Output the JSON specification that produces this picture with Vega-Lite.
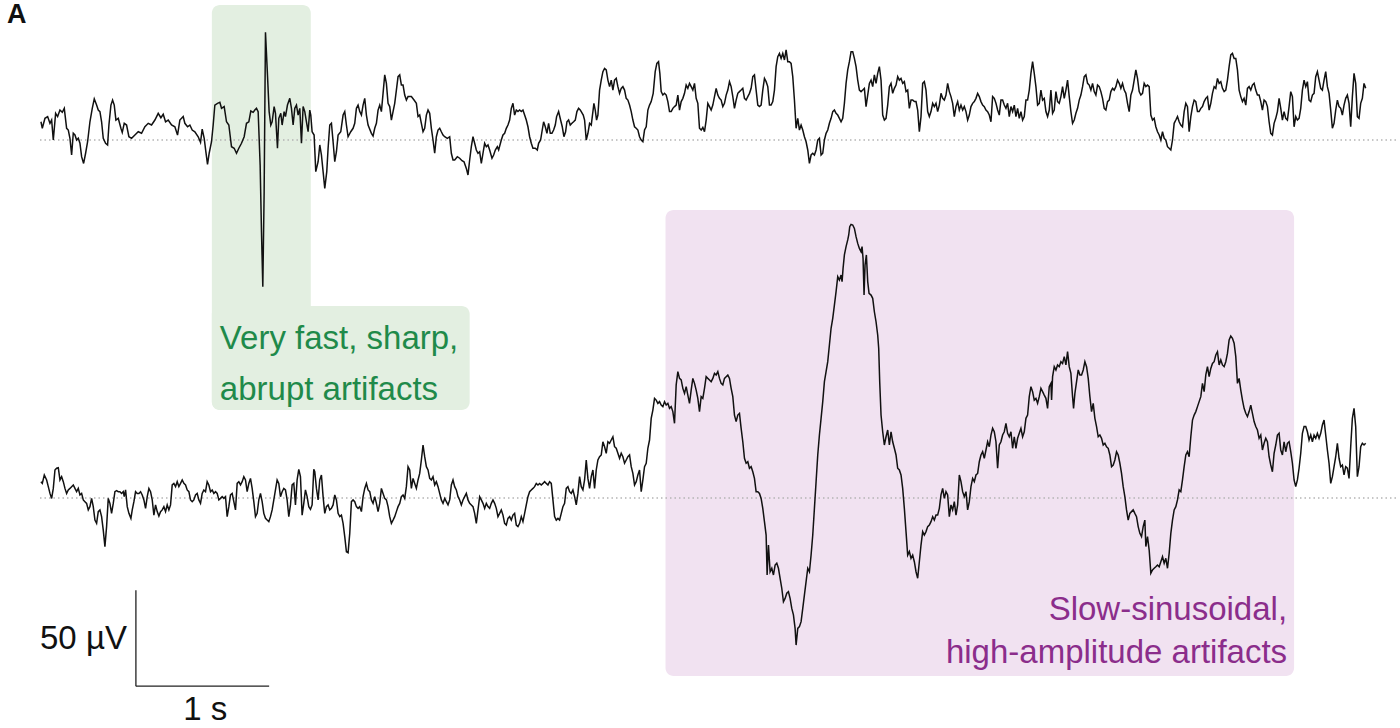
{
  "$schema": "https://vega.github.io/schema/vega-lite/v6.json",
  "width": 1400,
  "height": 728,
  "autosize": {"type": "fit", "contains": "padding"},
  "padding": 0,
  "background": "white",
  "config": {"view": {"stroke": null}},
  "datasets": {
    "top": [
      {"n":3,"uv":9.5},{"n":7,"uv":6.1},{"n":15,"uv":11.3},{"n":23,"uv":12.2},{"n":30,"uv":8.7},{"n":35,"uv":10.4},{"n":40,"uv":0},{"n":47,"uv":13.9},{"n":53,"uv":12.2},{"n":60,"uv":15.6},{"n":67,"uv":14.4},{"n":73,"uv":16.5},{"n":80,"uv":6.1},{"n":85,"uv":5.2},{"n":90,"uv":0.9},{"n":95,"uv":-7.8},{"n":100,"uv":3.5},{"n":105,"uv":2.6},{"n":110,"uv":0},{"n":115,"uv":0.9},{"n":120,"uv":-1.7},{"n":125,"uv":-8.7},{"n":131,"uv":-12.2},{"n":137,"uv":-6.9},{"n":143,"uv":-0.9},{"n":150,"uv":9.5},{"n":157,"uv":16.5},{"n":163,"uv":21.4},{"n":170,"uv":18.2},{"n":175,"uv":15.6},{"n":180,"uv":14.8},{"n":185,"uv":9.5},{"n":190,"uv":0.9},{"n":197,"uv":-1.7},{"n":203,"uv":-2.6},{"n":207,"uv":7.8},{"n":213,"uv":18.2},{"n":218,"uv":20.8},{"n":223,"uv":18.2},{"n":228,"uv":10.4},{"n":235,"uv":11.3},{"n":243,"uv":6.1},{"n":247,"uv":4.0},{"n":253,"uv":8.7},{"n":260,"uv":7.8},{"n":267,"uv":1.7},{"n":275,"uv":0.9},{"n":285,"uv":2.6},{"n":295,"uv":4.3},{"n":305,"uv":3.5},{"n":315,"uv":6.9},{"n":325,"uv":8.7},{"n":335,"uv":7.8},{"n":345,"uv":10.4},{"n":355,"uv":13.9},{"n":363,"uv":11.6},{"n":370,"uv":13.4},{"n":377,"uv":9.5},{"n":385,"uv":10.4},{"n":395,"uv":7.8},{"n":405,"uv":6.9},{"n":413,"uv":2.6},{"n":420,"uv":10.4},{"n":430,"uv":12.2},{"n":435,"uv":8.7},{"n":443,"uv":6.9},{"n":450,"uv":7.8},{"n":457,"uv":5.2},{"n":465,"uv":4.3},{"n":475,"uv":1.7},{"n":482,"uv":-1.2},{"n":487,"uv":5.7},{"n":493,"uv":0.9},{"n":498,"uv":-6.1},{"n":503,"uv":-12.7},{"n":508,"uv":-6.9},{"n":515,"uv":-0.9},{"n":520,"uv":7.8},{"n":525,"uv":18.2},{"n":533,"uv":19.1},{"n":540,"uv":19.6},{"n":545,"uv":16.5},{"n":553,"uv":17.4},{"n":560,"uv":9.5},{"n":567,"uv":7.8},{"n":575,"uv":-3.5},{"n":583,"uv":-4.3},{"n":590,"uv":-6.9},{"n":597,"uv":-4.3},{"n":605,"uv":-1.7},{"n":613,"uv":1.7},{"n":620,"uv":8.7},{"n":627,"uv":9.5},{"n":633,"uv":15.1},{"n":640,"uv":14.4},{"n":645,"uv":15.6},{"n":650,"uv":16.5},{"n":655,"uv":14.8},{"n":661,"uv":-13.0},{"n":665,"uv":-47.7},{"n":669,"uv":-76.4},{"n":673,"uv":-26.9},{"n":677,"uv":56.1},{"n":683,"uv":33.9},{"n":688,"uv":14.8},{"n":693,"uv":7.8},{"n":697,"uv":9.5},{"n":703,"uv":17.4},{"n":707,"uv":13.9},{"n":713,"uv":-4.3},{"n":717,"uv":11.3},{"n":723,"uv":13.9},{"n":727,"uv":7.8},{"n":733,"uv":14.8},{"n":737,"uv":12.2},{"n":743,"uv":18.2},{"n":750,"uv":21.7},{"n":755,"uv":16.5},{"n":760,"uv":7.8},{"n":765,"uv":16.5},{"n":770,"uv":18.2},{"n":775,"uv":13.0},{"n":780,"uv":16.5},{"n":785,"uv":-1.7},{"n":790,"uv":17.4},{"n":795,"uv":14.8},{"n":800,"uv":9.5},{"n":805,"uv":4.3},{"n":810,"uv":15.6},{"n":813,"uv":13.0},{"n":817,"uv":4.3},{"n":823,"uv":2.6},{"n":828,"uv":-16.5},{"n":835,"uv":-11.3},{"n":840,"uv":-2.6},{"n":845,"uv":-7.8},{"n":850,"uv":-16.5},{"n":855,"uv":-25.2},{"n":861,"uv":-16.5},{"n":865,"uv":-4.3},{"n":870,"uv":7.8},{"n":875,"uv":8.7},{"n":880,"uv":-0.9},{"n":885,"uv":-11.3},{"n":890,"uv":-6.1},{"n":895,"uv":2.6},{"n":903,"uv":4.3},{"n":910,"uv":13.0},{"n":915,"uv":14.8},{"n":920,"uv":7.8},{"n":925,"uv":1.7},{"n":933,"uv":4.3},{"n":940,"uv":6.1},{"n":945,"uv":8.7},{"n":950,"uv":16.5},{"n":955,"uv":18.2},{"n":960,"uv":14.8},{"n":965,"uv":13.0},{"n":970,"uv":18.2},{"n":975,"uv":21.7},{"n":980,"uv":13.0},{"n":985,"uv":7.8},
      {"n":995,"uv":3.5},{"n":1000,"uv":2.1},{"n":1005,"uv":6.1},{"n":1010,"uv":8.7},{"n":1015,"uv":15.6},{"n":1020,"uv":18.2},{"n":1025,"uv":14.8},{"n":1030,"uv":24.3},{"n":1035,"uv":33.9},{"n":1040,"uv":29.5},{"n":1045,"uv":19.1},{"n":1050,"uv":17.4},{"n":1055,"uv":10.4},{"n":1060,"uv":14.8},{"n":1065,"uv":19.1},{"n":1070,"uv":26.0},{"n":1075,"uv":33.0},{"n":1080,"uv":33.9},{"n":1085,"uv":28.6},{"n":1090,"uv":28.6},{"n":1095,"uv":23.4},{"n":1100,"uv":20.8},{"n":1105,"uv":22.6},{"n":1115,"uv":22.6},{"n":1123,"uv":20.8},{"n":1130,"uv":19.1},{"n":1135,"uv":12.2},{"n":1140,"uv":13.0},{"n":1145,"uv":8.7},{"n":1150,"uv":4.3},{"n":1155,"uv":6.1},{"n":1160,"uv":13.0},{"n":1165,"uv":15.6},{"n":1170,"uv":13.9},{"n":1175,"uv":6.1},{"n":1180,"uv":0},{"n":1185,"uv":-6.9},{"n":1190,"uv":1.7},{"n":1195,"uv":5.2},{"n":1200,"uv":6.1},{"n":1205,"uv":4.3},{"n":1210,"uv":2.6},{"n":1215,"uv":1.7},{"n":1223,"uv":0.9},{"n":1230,"uv":1.7},{"n":1235,"uv":-6.9},{"n":1240,"uv":-10.4},{"n":1245,"uv":-10.4},{"n":1253,"uv":-8.7},{"n":1260,"uv":-9.5},{"n":1267,"uv":-10.8},{"n":1273,"uv":-11.3},{"n":1280,"uv":-14.8},{"n":1285,"uv":-18.2},{"n":1290,"uv":-10.4},{"n":1295,"uv":-3.5},{"n":1300,"uv":1.7},{"n":1305,"uv":-1.7},{"n":1310,"uv":-5.2},{"n":1315,"uv":-6.9},{"n":1320,"uv":-6.1},{"n":1325,"uv":-12.2},{"n":1330,"uv":-6.9},{"n":1335,"uv":-1.7},{"n":1340,"uv":-3.5},{"n":1345,"uv":-2.6},{"n":1350,"uv":-5.2},{"n":1357,"uv":-9.5},{"n":1362,"uv":-7.8},{"n":1367,"uv":-5.2},{"n":1373,"uv":-3.5},{"n":1377,"uv":-5.2},{"n":1385,"uv":0},{"n":1390,"uv":2.6},{"n":1395,"uv":3.5},{"n":1400,"uv":6.1},{"n":1405,"uv":7.8},{"n":1410,"uv":10.4},{"n":1415,"uv":16.5},{"n":1420,"uv":19.1},{"n":1425,"uv":13.0},{"n":1430,"uv":15.6},{"n":1435,"uv":14.8},{"n":1440,"uv":15.6},{"n":1445,"uv":14.8},{"n":1450,"uv":15.6},{"n":1455,"uv":13.0},{"n":1460,"uv":10.4},{"n":1465,"uv":6.9},{"n":1470,"uv":1.7},{"n":1475,"uv":-1.7},{"n":1480,"uv":-4.3},{"n":1487,"uv":-4.3},{"n":1493,"uv":-5.2},{"n":1497,"uv":-1.7},{"n":1503,"uv":0},{"n":1507,"uv":4.3},{"n":1512,"uv":9.5},{"n":1517,"uv":6.9},{"n":1522,"uv":3.5},{"n":1527,"uv":8.7},{"n":1532,"uv":3.5},{"n":1537,"uv":3.5},{"n":1542,"uv":5.2},{"n":1547,"uv":7.8},{"n":1551,"uv":12.2},{"n":1557,"uv":14.8},{"n":1563,"uv":10.4},{"n":1568,"uv":6.9},{"n":1573,"uv":1.7},{"n":1578,"uv":4.3},{"n":1582,"uv":9.5},{"n":1587,"uv":10.4},{"n":1592,"uv":7.8},{"n":1597,"uv":8.7},{"n":1602,"uv":9.5},{"n":1607,"uv":10.4},{"n":1612,"uv":14.8},{"n":1617,"uv":16.5},{"n":1622,"uv":15.6},{"n":1625,"uv":14.8},{"n":1631,"uv":13.0},{"n":1635,"uv":10.4},{"n":1640,"uv":0},{"n":1645,"uv":3.5},{"n":1650,"uv":8.7},{"n":1655,"uv":7.8},{"n":1660,"uv":14.8},{"n":1663,"uv":19.1},{"n":1667,"uv":15.6},{"n":1671,"uv":10.4},{"n":1675,"uv":13.0},{"n":1680,"uv":26.0},{"n":1685,"uv":31.2},{"n":1690,"uv":35.6},{"n":1695,"uv":37.3},{"n":1700,"uv":36.5},{"n":1705,"uv":31.2},{"n":1710,"uv":27.8},{"n":1715,"uv":31.2},{"n":1720,"uv":26.0},{"n":1725,"uv":31.2},{"n":1730,"uv":32.1},{"n":1735,"uv":27.8},{"n":1740,"uv":24.3},{"n":1745,"uv":26.9},{"n":1750,"uv":27.8},{"n":1755,"uv":26.0},{"n":1760,"uv":21.7},{"n":1765,"uv":20.8},{"n":1770,"uv":18.2},{"n":1775,"uv":14.8},{"n":1780,"uv":10.4},{"n":1785,"uv":6.9},{"n":1790,"uv":6.1},{"n":1795,"uv":5.2},{"n":1800,"uv":1.7},{"n":1805,"uv":0},{"n":1810,"uv":-0.9},{"n":1815,"uv":5.2},{"n":1820,"uv":6.9},{"n":1825,"uv":15.6},{"n":1830,"uv":18.2},{"n":1835,"uv":20.0},{"n":1841,"uv":24.3},{"n":1847,"uv":35.6},{"n":1852,"uv":39.9},{"n":1857,"uv":40.8},{"n":1861,"uv":34.7},{"n":1865,"uv":25.2},{"n":1870,"uv":23.4},{"n":1875,"uv":24.3},{"n":1880,"uv":23.4},{"n":1885,"uv":20.0},{"n":1890,"uv":14.8},{"n":1895,"uv":14.8},{"n":1900,"uv":16.5},{"n":1905,"uv":17.4},{"n":1910,"uv":18.2},{"n":1915,"uv":23.4},{"n":1920,"uv":15.6},{"n":1925,"uv":20.0},{"n":1930,"uv":21.7},{"n":1935,"uv":24.3},{"n":1940,"uv":28.6},{"n":1945,"uv":26.9},{"n":1950,"uv":29.5},{"n":1955,"uv":27.8},{"n":1960,"uv":26.0},{"n":1965,"uv":29.5},{"n":1970,"uv":21.7},{"n":1975,"uv":19.1},
      {"n":1980,"uv":6.1},{"n":1985,"uv":5.2},{"n":1990,"uv":6.6},{"n":1995,"uv":4.3},{"n":2000,"uv":10.4},{"n":2005,"uv":19.1},{"n":2010,"uv":17.4},{"n":2015,"uv":15.6},{"n":2020,"uv":18.2},{"n":2025,"uv":22.6},{"n":2030,"uv":26.9},{"n":2035,"uv":23.4},{"n":2040,"uv":21.7},{"n":2045,"uv":20.8},{"n":2050,"uv":17.4},{"n":2055,"uv":19.1},{"n":2060,"uv":23.4},{"n":2065,"uv":26.0},{"n":2070,"uv":30.4},{"n":2075,"uv":27.8},{"n":2080,"uv":22.6},{"n":2085,"uv":16.5},{"n":2090,"uv":20.8},{"n":2095,"uv":24.3},{"n":2100,"uv":25.2},{"n":2105,"uv":26.0},{"n":2110,"uv":26.9},{"n":2115,"uv":21.7},{"n":2120,"uv":20.8},{"n":2125,"uv":22.6},{"n":2130,"uv":24.3},{"n":2135,"uv":26.9},{"n":2140,"uv":33.0},{"n":2145,"uv":33.9},{"n":2150,"uv":26.0},{"n":2155,"uv":18.2},{"n":2160,"uv":17.4},{"n":2165,"uv":18.2},{"n":2170,"uv":26.0},{"n":2175,"uv":32.1},{"n":2180,"uv":30.4},{"n":2185,"uv":27.8},{"n":2190,"uv":18.2},{"n":2195,"uv":18.2},{"n":2200,"uv":20.0},{"n":2205,"uv":26.0},{"n":2210,"uv":38.2},{"n":2215,"uv":43.4},{"n":2220,"uv":45.1},{"n":2225,"uv":42.5},{"n":2230,"uv":45.1},{"n":2235,"uv":41.7},{"n":2240,"uv":46.9},{"n":2245,"uv":40.8},{"n":2250,"uv":40.8},{"n":2255,"uv":39.9},{"n":2260,"uv":33.0},{"n":2265,"uv":20.8},{"n":2270,"uv":6.1},{"n":2275,"uv":11.3},{"n":2280,"uv":5.2},{"n":2285,"uv":7.8},{"n":2290,"uv":5.2},{"n":2295,"uv":1.7},{"n":2300,"uv":-0.9},{"n":2305,"uv":-5.2},{"n":2310,"uv":-12.2},{"n":2315,"uv":-7.8},{"n":2320,"uv":-6.9},{"n":2325,"uv":-7.8},{"n":2330,"uv":-5.2},{"n":2335,"uv":0},{"n":2340,"uv":0.9},{"n":2345,"uv":-7.8},{"n":2350,"uv":-6.9},{"n":2355,"uv":0},{"n":2360,"uv":3.5},{"n":2365,"uv":5.2},{"n":2370,"uv":8.7},{"n":2375,"uv":11.3},{"n":2380,"uv":14.8},{"n":2385,"uv":15.6},{"n":2390,"uv":13.9},{"n":2395,"uv":13.0},{"n":2400,"uv":11.3},{"n":2405,"uv":9.5},{"n":2410,"uv":11.3},{"n":2415,"uv":19.1},{"n":2420,"uv":29.5},{"n":2425,"uv":36.5},{"n":2430,"uv":40.8},{"n":2435,"uv":46.0},{"n":2440,"uv":46.0},{"n":2445,"uv":42.5},{"n":2450,"uv":38.2},{"n":2455,"uv":31.2},{"n":2460,"uv":26.0},{"n":2465,"uv":25.2},{"n":2470,"uv":26.0},{"n":2475,"uv":26.9},{"n":2480,"uv":17.4},{"n":2485,"uv":23.4},{"n":2490,"uv":29.5},{"n":2495,"uv":31.2},{"n":2500,"uv":27.8},{"n":2505,"uv":33.9},{"n":2510,"uv":29.5},{"n":2515,"uv":34.7},{"n":2520,"uv":38.2},{"n":2525,"uv":31.2},{"n":2530,"uv":13.0},{"n":2535,"uv":10.4},{"n":2540,"uv":11.3},{"n":2545,"uv":18.2},{"n":2550,"uv":27.8},{"n":2555,"uv":29.5},{"n":2560,"uv":24.3},{"n":2565,"uv":26.9},{"n":2570,"uv":28.6},{"n":2575,"uv":33.0},{"n":2580,"uv":31.2},{"n":2585,"uv":32.1},{"n":2590,"uv":29.5},{"n":2595,"uv":30.4},{"n":2600,"uv":25.2},{"n":2605,"uv":26.0},{"n":2610,"uv":16.5},{"n":2615,"uv":20.8},{"n":2620,"uv":20.8},{"n":2625,"uv":20.0},{"n":2630,"uv":20.0},{"n":2635,"uv":15.6},{"n":2640,"uv":4.3},{"n":2645,"uv":12.2},{"n":2650,"uv":29.5},{"n":2655,"uv":30.4},{"n":2660,"uv":26.0},{"n":2665,"uv":14.8},{"n":2670,"uv":12.2},{"n":2675,"uv":14.8},{"n":2680,"uv":19.1},{"n":2685,"uv":17.4},{"n":2690,"uv":19.1},{"n":2695,"uv":14.8},{"n":2700,"uv":18.2},{"n":2705,"uv":24.3},{"n":2710,"uv":21.7},{"n":2715,"uv":20.8},{"n":2720,"uv":23.4},{"n":2725,"uv":29.5},{"n":2730,"uv":25.2},{"n":2735,"uv":22.6},{"n":2740,"uv":19.1},{"n":2745,"uv":12.2},{"n":2750,"uv":17.4},{"n":2755,"uv":20.0},{"n":2760,"uv":15.6},{"n":2765,"uv":18.2},{"n":2770,"uv":15.6},{"n":2775,"uv":17.4},{"n":2780,"uv":14.8},{"n":2785,"uv":10.4},{"n":2790,"uv":13.0},{"n":2795,"uv":17.4},{"n":2800,"uv":19.1},{"n":2805,"uv":20.0},{"n":2810,"uv":21.7},{"n":2815,"uv":24.3},{"n":2820,"uv":22.6},{"n":2825,"uv":20.0},{"n":2830,"uv":18.2},{"n":2835,"uv":17.4},{"n":2840,"uv":15.6},{"n":2845,"uv":14.8},{"n":2850,"uv":13.0},{"n":2855,"uv":9.5},{"n":2860,"uv":22.6},{"n":2865,"uv":21.7},{"n":2870,"uv":19.1},{"n":2875,"uv":15.6},{"n":2880,"uv":13.0},{"n":2885,"uv":20.8},{"n":2890,"uv":20.8},{"n":2895,"uv":18.2},{"n":2900,"uv":16.5},{"n":2905,"uv":19.1},{"n":2910,"uv":12.2},{"n":2915,"uv":17.4},{"n":2920,"uv":14.8},{"n":2925,"uv":18.2},{"n":2930,"uv":12.2},{"n":2935,"uv":16.5},{"n":2940,"uv":11.3},{"n":2945,"uv":14.8},{"n":2950,"uv":10.4},{"n":2955,"uv":12.2},{"n":2960,"uv":20.8},{"n":2965,"uv":20.8},
      {"n":2970,"uv":26.0},{"n":2975,"uv":34.7},{"n":2980,"uv":40.8},{"n":2985,"uv":34.7},{"n":2990,"uv":27.8},{"n":2995,"uv":18.2},{"n":3000,"uv":19.1},{"n":3005,"uv":26.0},{"n":3010,"uv":20.8},{"n":3015,"uv":21.7},{"n":3020,"uv":14.8},{"n":3025,"uv":12.2},{"n":3030,"uv":15.6},{"n":3035,"uv":26.0},{"n":3040,"uv":13.9},{"n":3045,"uv":15.6},{"n":3050,"uv":25.2},{"n":3055,"uv":20.0},{"n":3060,"uv":19.1},{"n":3065,"uv":22.6},{"n":3070,"uv":27.8},{"n":3075,"uv":21.7},{"n":3080,"uv":26.0},{"n":3085,"uv":31.2},{"n":3090,"uv":22.6},{"n":3095,"uv":14.8},{"n":3100,"uv":8.7},{"n":3105,"uv":10.4},{"n":3110,"uv":13.9},{"n":3115,"uv":16.5},{"n":3120,"uv":20.8},{"n":3125,"uv":23.4},{"n":3130,"uv":27.8},{"n":3135,"uv":33.0},{"n":3140,"uv":33.9},{"n":3145,"uv":29.5},{"n":3150,"uv":28.6},{"n":3155,"uv":26.0},{"n":3160,"uv":29.5},{"n":3165,"uv":25.2},{"n":3170,"uv":23.4},{"n":3175,"uv":28.6},{"n":3180,"uv":27.8},{"n":3185,"uv":25.2},{"n":3190,"uv":21.7},{"n":3195,"uv":16.5},{"n":3200,"uv":15.6},{"n":3205,"uv":20.0},{"n":3210,"uv":20.8},{"n":3215,"uv":25.2},{"n":3220,"uv":26.9},{"n":3225,"uv":26.0},{"n":3230,"uv":27.8},{"n":3235,"uv":31.2},{"n":3240,"uv":29.5},{"n":3245,"uv":26.9},{"n":3250,"uv":29.5},{"n":3255,"uv":26.0},{"n":3260,"uv":24.3},{"n":3265,"uv":19.1},{"n":3270,"uv":14.8},{"n":3275,"uv":23.4},{"n":3280,"uv":26.0},{"n":3285,"uv":31.2},{"n":3290,"uv":36.5},{"n":3295,"uv":32.1},{"n":3300,"uv":25.2},{"n":3305,"uv":23.4},{"n":3310,"uv":24.3},{"n":3315,"uv":29.5},{"n":3320,"uv":27.8},{"n":3325,"uv":28.6},{"n":3330,"uv":27.8},{"n":3335,"uv":13.0},{"n":3340,"uv":10.4},{"n":3345,"uv":11.3},{"n":3350,"uv":6.9},{"n":3355,"uv":4.3},{"n":3360,"uv":2.6},{"n":3365,"uv":0},{"n":3370,"uv":4.3},{"n":3375,"uv":0.9},{"n":3380,"uv":0},{"n":3385,"uv":-3.5},{"n":3390,"uv":-4.3},{"n":3395,"uv":-5.2},{"n":3400,"uv":0},{"n":3405,"uv":8.7},{"n":3410,"uv":10.4},{"n":3415,"uv":12.2},{"n":3420,"uv":9.5},{"n":3425,"uv":7.8},{"n":3430,"uv":6.9},{"n":3435,"uv":14.8},{"n":3440,"uv":19.1},{"n":3445,"uv":17.4},{"n":3450,"uv":4.3},{"n":3455,"uv":12.2},{"n":3460,"uv":17.4},{"n":3465,"uv":20.8},{"n":3470,"uv":20.0},{"n":3475,"uv":14.8},{"n":3480,"uv":14.8},{"n":3485,"uv":16.5},{"n":3490,"uv":17.4},{"n":3495,"uv":20.0},{"n":3500,"uv":21.7},{"n":3505,"uv":22.6},{"n":3510,"uv":15.6},{"n":3515,"uv":19.1},{"n":3520,"uv":24.3},{"n":3525,"uv":27.8},{"n":3530,"uv":26.9},{"n":3535,"uv":32.1},{"n":3540,"uv":29.5},{"n":3545,"uv":30.4},{"n":3550,"uv":26.9},{"n":3555,"uv":25.2},{"n":3560,"uv":26.0},{"n":3565,"uv":31.2},{"n":3570,"uv":38.2},{"n":3575,"uv":44.3},{"n":3580,"uv":45.1},{"n":3585,"uv":42.5},{"n":3590,"uv":42.5},{"n":3595,"uv":36.5},{"n":3600,"uv":26.0},{"n":3605,"uv":22.6},{"n":3610,"uv":20.0},{"n":3615,"uv":21.7},{"n":3620,"uv":18.2},{"n":3625,"uv":26.9},{"n":3630,"uv":27.8},{"n":3635,"uv":26.0},{"n":3640,"uv":28.6},{"n":3645,"uv":29.5},{"n":3650,"uv":26.0},{"n":3655,"uv":23.4},{"n":3660,"uv":23.4},{"n":3665,"uv":20.0},{"n":3670,"uv":15.6},{"n":3675,"uv":20.8},{"n":3680,"uv":20.0},{"n":3685,"uv":17.4},{"n":3690,"uv":9.5},{"n":3695,"uv":3.5},{"n":3700,"uv":2.6},{"n":3705,"uv":8.7},{"n":3710,"uv":11.3},{"n":3715,"uv":14.8},{"n":3720,"uv":21.7},{"n":3725,"uv":16.5},{"n":3730,"uv":10.4},{"n":3735,"uv":14.8},{"n":3740,"uv":11.3},{"n":3745,"uv":10.4},{"n":3750,"uv":17.4},{"n":3755,"uv":25.2},{"n":3760,"uv":22.6},{"n":3765,"uv":6.9},{"n":3770,"uv":12.2},{"n":3775,"uv":10.4},{"n":3780,"uv":11.3},{"n":3785,"uv":16.5},{"n":3790,"uv":26.0},{"n":3795,"uv":31.2},{"n":3800,"uv":27.8},{"n":3805,"uv":30.4},{"n":3810,"uv":20.8},{"n":3815,"uv":20.0},{"n":3820,"uv":23.4},{"n":3825,"uv":24.3},{"n":3830,"uv":33.0},{"n":3835,"uv":35.6},{"n":3840,"uv":31.2},{"n":3845,"uv":26.9},{"n":3850,"uv":26.0},{"n":3855,"uv":31.2},{"n":3860,"uv":35.6},{"n":3865,"uv":27.8},{"n":3870,"uv":24.3},{"n":3875,"uv":15.6},{"n":3880,"uv":6.1},{"n":3885,"uv":8.7},{"n":3890,"uv":15.6},{"n":3895,"uv":20.8},{"n":3900,"uv":17.4},{"n":3905,"uv":16.5},{"n":3910,"uv":13.0},{"n":3915,"uv":18.2},{"n":3920,"uv":21.7},{"n":3925,"uv":23.4},{"n":3930,"uv":19.1},{"n":3935,"uv":6.9},{"n":3940,"uv":22.6},{"n":3945,"uv":34.7},{"n":3950,"uv":29.5},{"n":3955,"uv":12.2},{"n":3960,"uv":11.3},{"n":3965,"uv":19.1},{"n":3970,"uv":21.7},{"n":3975,"uv":29.5},{"n":3980,"uv":26.9}
    ],
    "bottom": [
      {"n":3,"uv":8.5},{"n":7,"uv":7.6},{"n":13,"uv":12.0},{"n":20,"uv":9.4},{"n":25,"uv":5.9},{"n":30,"uv":2.4},{"n":35,"uv":-0.2},{"n":40,"uv":5.0},{"n":45,"uv":14.6},{"n":50,"uv":15.5},{"n":55,"uv":15.8},{"n":60,"uv":9.4},{"n":65,"uv":11.1},{"n":70,"uv":8.5},{"n":75,"uv":5.0},{"n":80,"uv":2.4},{"n":85,"uv":4.2},{"n":90,"uv":5.0},{"n":95,"uv":5.9},{"n":100,"uv":6.8},{"n":105,"uv":5.0},{"n":110,"uv":3.3},{"n":115,"uv":5.0},{"n":120,"uv":1.6},{"n":125,"uv":2.4},{"n":130,"uv":-1.0},{"n":135,"uv":-1.9},{"n":140,"uv":-2.8},{"n":145,"uv":-6.2},{"n":150,"uv":-4.5},{"n":155,"uv":-0.2},{"n":160,"uv":-4.5},{"n":165,"uv":-11.5},{"n":170,"uv":-13.2},{"n":175,"uv":-7.1},{"n":180,"uv":-6.2},{"n":185,"uv":-9.7},{"n":190,"uv":-16.7},{"n":195,"uv":-25.3},{"n":200,"uv":-14.9},{"n":205,"uv":-0.2},{"n":210,"uv":-2.8},{"n":215,"uv":-8.0},{"n":220,"uv":-2.8},{"n":225,"uv":3.3},{"n":230,"uv":3.8},{"n":235,"uv":3.3},{"n":240,"uv":3.3},{"n":245,"uv":2.4},{"n":250,"uv":3.3},{"n":253,"uv":0.7},{"n":257,"uv":4.2},{"n":262,"uv":-4.5},{"n":267,"uv":-8.0},{"n":273,"uv":-10.6},{"n":277,"uv":-6.2},{"n":282,"uv":-1.9},{"n":287,"uv":3.3},{"n":292,"uv":2.4},{"n":297,"uv":2.4},{"n":302,"uv":3.3},{"n":307,"uv":1.6},{"n":312,"uv":-1.0},{"n":317,"uv":-5.4},{"n":322,"uv":0.7},{"n":327,"uv":5.0},{"n":332,"uv":3.3},{"n":337,"uv":-1.0},{"n":342,"uv":-8.9},{"n":347,"uv":-3.6},{"n":352,"uv":-7.1},{"n":357,"uv":-9.4},{"n":362,"uv":-7.1},{"n":367,"uv":-6.2},{"n":372,"uv":-4.5},{"n":377,"uv":-7.1},{"n":382,"uv":-3.6},{"n":387,"uv":-6.2},{"n":392,"uv":-3.6},{"n":397,"uv":6.8},{"n":402,"uv":7.6},{"n":407,"uv":5.9},{"n":412,"uv":8.5},{"n":417,"uv":5.9},{"n":422,"uv":7.6},{"n":427,"uv":9.4},{"n":432,"uv":7.6},{"n":437,"uv":6.8},{"n":442,"uv":4.2},{"n":447,"uv":3.3},{"n":452,"uv":-1.0},{"n":457,"uv":-1.9},{"n":462,"uv":-1.0},{"n":467,"uv":1.6},{"n":472,"uv":2.4},{"n":477,"uv":-1.0},{"n":482,"uv":-2.8},{"n":487,"uv":2.4},{"n":492,"uv":4.2},{"n":497,"uv":3.3},{"n":502,"uv":8.5},{"n":507,"uv":6.8},{"n":512,"uv":3.3},{"n":517,"uv":4.2},{"n":522,"uv":2.4},{"n":527,"uv":3.3},{"n":532,"uv":2.4},{"n":537,"uv":-1.0},{"n":542,"uv":-0.2},{"n":547,"uv":0.7},{"n":552,"uv":-0.2},{"n":557,"uv":0.7},{"n":562,"uv":-9.7},{"n":567,"uv":-4.5},{"n":572,"uv":1.6},{"n":577,"uv":2.4},{"n":582,"uv":-1.9},{"n":587,"uv":-6.2},{"n":592,"uv":7.6},{"n":597,"uv":8.5},{"n":602,"uv":6.8},{"n":607,"uv":8.5},{"n":612,"uv":11.1},{"n":617,"uv":9.4},{"n":622,"uv":3.3},{"n":627,"uv":7.6},{"n":632,"uv":10.2},{"n":637,"uv":5.0},{"n":642,"uv":-1.9},{"n":647,"uv":-9.7},{"n":652,"uv":-8.0},{"n":657,"uv":-1.0},{"n":662,"uv":2.4},{"n":667,"uv":-1.9},{"n":672,"uv":-8.0},{"n":677,"uv":-10.6},{"n":682,"uv":-11.5},{"n":687,"uv":-12.3},{"n":692,"uv":-9.7},{"n":697,"uv":-6.2},{"n":702,"uv":-1.0},{"n":707,"uv":4.2},{"n":712,"uv":9.4},{"n":717,"uv":7.6},{"n":722,"uv":0.7},{"n":727,"uv":3.3},{"n":732,"uv":5.0},{"n":737,"uv":4.2},{"n":742,"uv":-1.0},{"n":747,"uv":-9.7},{"n":752,"uv":-3.6},{"n":757,"uv":6.8},{"n":762,"uv":7.6},{"n":767,"uv":-3.6},{"n":772,"uv":9.4},{"n":777,"uv":14.9},{"n":782,"uv":11.1},{"n":787,"uv":-8.9},{"n":792,"uv":-2.8},{"n":797,"uv":4.2},{"n":802,"uv":0.7},{"n":807,"uv":-4.5},{"n":812,"uv":-5.9},{"n":817,"uv":-3.6},{"n":822,"uv":14.9},{"n":825,"uv":13.7},{"n":830,"uv":5.0},{"n":835,"uv":-1.0},{"n":840,"uv":9.4},{"n":845,"uv":12.0},{"n":850,"uv":0.7},{"n":855,"uv":-8.0},{"n":860,"uv":-4.5},{"n":865,"uv":-3.6},{"n":870,"uv":-6.2},{"n":875,"uv":-5.4},{"n":880,"uv":-3.6},{"n":885,"uv":1.6},{"n":890,"uv":-1.0},{"n":895,"uv":-8.0},{"n":900,"uv":-9.7},{"n":905,"uv":-8.9},{"n":910,"uv":-13.2},{"n":915,"uv":-20.1},{"n":920,"uv":-28.0},{"n":925,"uv":-28.5},{"n":930,"uv":-18.4},{"n":935,"uv":-1.9},{"n":940,"uv":-1.0},{"n":945,"uv":-1.9},{"n":950,"uv":-4.5},{"n":955,"uv":-5.4},{"n":960,"uv":-4.5},{"n":965,"uv":-7.1},{"n":970,"uv":0.7},{"n":975,"uv":5.0},{"n":980,"uv":7.6},{"n":985,"uv":4.2},
      {"n":990,"uv":3.3},{"n":995,"uv":-1.0},{"n":1000,"uv":-2.8},{"n":1005,"uv":0.7},{"n":1010,"uv":-2.8},{"n":1015,"uv":-7.1},{"n":1020,"uv":-2.8},{"n":1025,"uv":5.0},{"n":1030,"uv":2.4},{"n":1035,"uv":-0.2},{"n":1040,"uv":-1.0},{"n":1045,"uv":-4.5},{"n":1050,"uv":-9.7},{"n":1055,"uv":-13.2},{"n":1060,"uv":-11.5},{"n":1065,"uv":-9.7},{"n":1070,"uv":-7.1},{"n":1075,"uv":-4.5},{"n":1080,"uv":-2.8},{"n":1085,"uv":0.7},{"n":1090,"uv":1.6},{"n":1095,"uv":-0.2},{"n":1100,"uv":5.9},{"n":1105,"uv":16.3},{"n":1110,"uv":14.6},{"n":1115,"uv":5.0},{"n":1120,"uv":10.2},{"n":1125,"uv":7.6},{"n":1130,"uv":5.0},{"n":1135,"uv":9.4},{"n":1140,"uv":12.8},{"n":1145,"uv":19.8},{"n":1150,"uv":27.6},{"n":1155,"uv":21.5},{"n":1160,"uv":16.3},{"n":1165,"uv":14.6},{"n":1170,"uv":10.2},{"n":1175,"uv":9.4},{"n":1180,"uv":11.1},{"n":1185,"uv":6.8},{"n":1190,"uv":8.5},{"n":1195,"uv":5.9},{"n":1200,"uv":2.4},{"n":1205,"uv":-1.0},{"n":1210,"uv":-2.8},{"n":1215,"uv":-0.2},{"n":1220,"uv":-1.9},{"n":1225,"uv":-3.6},{"n":1230,"uv":-1.0},{"n":1235,"uv":6.8},{"n":1240,"uv":9.4},{"n":1245,"uv":5.9},{"n":1250,"uv":4.2},{"n":1255,"uv":0.7},{"n":1260,"uv":-1.0},{"n":1265,"uv":-3.6},{"n":1270,"uv":-1.0},{"n":1275,"uv":0.7},{"n":1280,"uv":2.4},{"n":1285,"uv":-1.0},{"n":1290,"uv":-2.8},{"n":1295,"uv":-3.6},{"n":1300,"uv":-4.5},{"n":1305,"uv":-8.0},{"n":1310,"uv":-13.2},{"n":1315,"uv":-6.2},{"n":1320,"uv":0.7},{"n":1325,"uv":-1.0},{"n":1330,"uv":-2.8},{"n":1335,"uv":-5.4},{"n":1340,"uv":-2.8},{"n":1345,"uv":-4.5},{"n":1350,"uv":-5.4},{"n":1355,"uv":-2.8},{"n":1360,"uv":-1.0},{"n":1365,"uv":-2.8},{"n":1370,"uv":-5.4},{"n":1375,"uv":-9.7},{"n":1380,"uv":-8.0},{"n":1385,"uv":-6.2},{"n":1390,"uv":-8.9},{"n":1395,"uv":-13.2},{"n":1400,"uv":-14.1},{"n":1405,"uv":-10.6},{"n":1410,"uv":-9.7},{"n":1415,"uv":-11.5},{"n":1420,"uv":-8.9},{"n":1425,"uv":-8.0},{"n":1430,"uv":-14.1},{"n":1435,"uv":-14.9},{"n":1440,"uv":-13.2},{"n":1445,"uv":-9.7},{"n":1450,"uv":-12.3},{"n":1455,"uv":-8.0},{"n":1460,"uv":-3.6},{"n":1465,"uv":0.7},{"n":1470,"uv":3.3},{"n":1475,"uv":4.2},{"n":1480,"uv":5.0},{"n":1485,"uv":5.9},{"n":1490,"uv":7.6},{"n":1495,"uv":6.8},{"n":1500,"uv":7.6},{"n":1505,"uv":6.8},{"n":1510,"uv":7.6},{"n":1515,"uv":8.5},{"n":1520,"uv":7.6},{"n":1525,"uv":6.8},{"n":1530,"uv":8.5},{"n":1535,"uv":7.6},{"n":1540,"uv":-1.0},{"n":1545,"uv":-9.7},{"n":1550,"uv":-11.5},{"n":1555,"uv":-10.6},{"n":1560,"uv":-11.5},{"n":1565,"uv":-8.0},{"n":1570,"uv":-4.5},{"n":1575,"uv":-2.8},{"n":1580,"uv":5.0},{"n":1585,"uv":5.9},{"n":1590,"uv":3.3},{"n":1595,"uv":2.4},{"n":1600,"uv":4.2},{"n":1605,"uv":0.7},{"n":1610,"uv":-3.6},{"n":1615,"uv":2.4},{"n":1620,"uv":11.1},{"n":1625,"uv":5.9},{"n":1630,"uv":4.2},{"n":1635,"uv":9.4},{"n":1640,"uv":19.8},{"n":1645,"uv":10.2},{"n":1650,"uv":5.0},{"n":1655,"uv":11.1},{"n":1660,"uv":14.6},{"n":1665,"uv":5.0},{"n":1670,"uv":14.6},{"n":1675,"uv":19.8},{"n":1680,"uv":21.5},{"n":1685,"uv":22.4},{"n":1690,"uv":29.3},{"n":1695,"uv":26.7},{"n":1700,"uv":23.3},{"n":1705,"uv":29.3},{"n":1710,"uv":28.5},{"n":1715,"uv":30.2},{"n":1720,"uv":31.9},{"n":1725,"uv":26.7},{"n":1730,"uv":25.9},{"n":1735,"uv":23.3},{"n":1740,"uv":20.7},{"n":1745,"uv":23.3},{"n":1750,"uv":21.5},{"n":1755,"uv":18.1},{"n":1760,"uv":19.8},{"n":1765,"uv":21.5},{"n":1770,"uv":22.4},{"n":1775,"uv":16.3},{"n":1780,"uv":12.8},{"n":1785,"uv":6.8},{"n":1790,"uv":8.5},{"n":1795,"uv":12.0},{"n":1800,"uv":14.6},{"n":1805,"uv":3.3},{"n":1810,"uv":9.4},{"n":1815,"uv":16.3},{"n":1820,"uv":18.1},{"n":1825,"uv":25.9},{"n":1830,"uv":30.2},{"n":1835,"uv":41.5},{"n":1840,"uv":45.8},{"n":1845,"uv":51.9},{"n":1850,"uv":51.0},{"n":1855,"uv":49.3},{"n":1860,"uv":50.2},{"n":1865,"uv":48.4},{"n":1870,"uv":47.6},{"n":1875,"uv":50.2},{"n":1880,"uv":48.4},{"n":1885,"uv":49.3},{"n":1890,"uv":46.7},{"n":1895,"uv":47.6},{"n":1900,"uv":45.0},{"n":1905,"uv":38.9},{"n":1910,"uv":58.9},{"n":1915,"uv":65.8},{"n":1920,"uv":62.3},{"n":1925,"uv":61.5},{"n":1930,"uv":57.1},{"n":1935,"uv":54.5},{"n":1940,"uv":58.0},{"n":1945,"uv":53.6},{"n":1950,"uv":49.3},{"n":1955,"uv":56.2},{"n":1960,"uv":62.3},{"n":1965,"uv":59.7},{"n":1970,"uv":56.2},{"n":1975,"uv":51.9},
      {"n":1980,"uv":45.0},{"n":1985,"uv":52.8},{"n":1990,"uv":51.9},{"n":1995,"uv":57.1},{"n":2000,"uv":63.2},{"n":2005,"uv":62.3},{"n":2010,"uv":61.5},{"n":2015,"uv":60.6},{"n":2020,"uv":62.3},{"n":2025,"uv":64.9},{"n":2030,"uv":64.1},{"n":2035,"uv":65.8},{"n":2040,"uv":62.3},{"n":2045,"uv":59.7},{"n":2050,"uv":58.9},{"n":2055,"uv":62.3},{"n":2060,"uv":63.2},{"n":2065,"uv":64.1},{"n":2070,"uv":62.3},{"n":2075,"uv":57.1},{"n":2080,"uv":52.8},{"n":2085,"uv":43.2},{"n":2090,"uv":39.8},{"n":2095,"uv":43.2},{"n":2100,"uv":44.1},{"n":2105,"uv":36.3},{"n":2110,"uv":29.3},{"n":2115,"uv":20.7},{"n":2120,"uv":18.1},{"n":2125,"uv":18.9},{"n":2130,"uv":15.5},{"n":2135,"uv":16.3},{"n":2140,"uv":13.7},{"n":2145,"uv":10.2},{"n":2150,"uv":3.3},{"n":2155,"uv":3.3},{"n":2160,"uv":2.4},{"n":2165,"uv":-0.2},{"n":2170,"uv":-5.4},{"n":2175,"uv":-12.3},{"n":2180,"uv":-19.3},{"n":2183,"uv":-40.1},{"n":2187,"uv":-24.5},{"n":2192,"uv":-38.4},{"n":2197,"uv":-36.6},{"n":2202,"uv":-40.1},{"n":2207,"uv":-34.9},{"n":2212,"uv":-34.0},{"n":2217,"uv":-36.6},{"n":2222,"uv":-41.8},{"n":2227,"uv":-47.0},{"n":2232,"uv":-54.0},{"n":2237,"uv":-52.3},{"n":2242,"uv":-49.6},{"n":2247,"uv":-48.8},{"n":2252,"uv":-52.3},{"n":2257,"uv":-57.5},{"n":2262,"uv":-60.9},{"n":2267,"uv":-67.9},{"n":2270,"uv":-76.6},{"n":2275,"uv":-67.9},{"n":2280,"uv":-67.0},{"n":2285,"uv":-64.4},{"n":2290,"uv":-57.5},{"n":2295,"uv":-50.5},{"n":2300,"uv":-43.6},{"n":2305,"uv":-36.6},{"n":2310,"uv":-38.4},{"n":2315,"uv":-29.7},{"n":2320,"uv":-19.3},{"n":2325,"uv":-5.4},{"n":2330,"uv":8.5},{"n":2335,"uv":22.4},{"n":2340,"uv":32.8},{"n":2345,"uv":41.5},{"n":2350,"uv":50.2},{"n":2355,"uv":60.6},{"n":2360,"uv":65.8},{"n":2365,"uv":71.0},{"n":2370,"uv":79.7},{"n":2375,"uv":88.4},{"n":2380,"uv":93.6},{"n":2385,"uv":100.5},{"n":2390,"uv":107.5},{"n":2395,"uv":115.3},{"n":2400,"uv":113.5},{"n":2405,"uv":116.1},{"n":2408,"uv":112.7},{"n":2411,"uv":119.6},{"n":2415,"uv":126.6},{"n":2420,"uv":130.9},{"n":2425,"uv":134.4},{"n":2428,"uv":137.0},{"n":2431,"uv":141.3},{"n":2435,"uv":142.5},{"n":2440,"uv":142.2},{"n":2445,"uv":140.4},{"n":2450,"uv":136.1},{"n":2455,"uv":132.6},{"n":2460,"uv":130.0},{"n":2465,"uv":128.3},{"n":2468,"uv":130.9},{"n":2471,"uv":124.8},{"n":2474,"uv":105.7},{"n":2477,"uv":121.3},{"n":2481,"uv":126.6},{"n":2485,"uv":112.7},{"n":2489,"uv":106.6},{"n":2495,"uv":105.7},{"n":2500,"uv":104.0},{"n":2505,"uv":97.0},{"n":2510,"uv":91.8},{"n":2515,"uv":84.9},{"n":2518,"uv":77.9},{"n":2521,"uv":60.6},{"n":2525,"uv":43.2},{"n":2530,"uv":34.5},{"n":2535,"uv":27.6},{"n":2540,"uv":31.9},{"n":2545,"uv":35.4},{"n":2550,"uv":27.6},{"n":2555,"uv":34.5},{"n":2560,"uv":29.3},{"n":2565,"uv":25.9},{"n":2570,"uv":22.4},{"n":2575,"uv":15.5},{"n":2580,"uv":14.6},{"n":2585,"uv":12.0},{"n":2590,"uv":5.0},{"n":2595,"uv":-5.4},{"n":2600,"uv":-17.5},{"n":2605,"uv":-29.7},{"n":2610,"uv":-27.9},{"n":2615,"uv":-31.4},{"n":2620,"uv":-29.7},{"n":2625,"uv":-33.2},{"n":2630,"uv":-38.4},{"n":2635,"uv":-41.8},{"n":2640,"uv":-33.2},{"n":2645,"uv":-24.5},{"n":2650,"uv":-17.5},{"n":2655,"uv":-19.3},{"n":2660,"uv":-17.5},{"n":2665,"uv":-14.9},{"n":2670,"uv":-14.1},{"n":2675,"uv":-12.3},{"n":2680,"uv":-9.7},{"n":2685,"uv":-11.5},{"n":2690,"uv":-8.9},{"n":2695,"uv":-8.9},{"n":2700,"uv":-5.4},{"n":2705,"uv":1.6},{"n":2710,"uv":5.0},{"n":2715,"uv":-0.2},{"n":2720,"uv":3.3},{"n":2725,"uv":1.6},{"n":2730,"uv":-9.7},{"n":2735,"uv":-3.6},{"n":2740,"uv":-6.2},{"n":2745,"uv":-1.9},{"n":2750,"uv":-8.9},{"n":2755,"uv":-3.6},{"n":2760,"uv":12.0},{"n":2765,"uv":8.5},{"n":2770,"uv":3.3},{"n":2775,"uv":0.7},{"n":2780,"uv":3.3},{"n":2785,"uv":-6.2},{"n":2790,"uv":-1.9},{"n":2795,"uv":5.9},{"n":2800,"uv":10.2},{"n":2805,"uv":8.5},{"n":2810,"uv":12.0},{"n":2815,"uv":12.8},{"n":2820,"uv":18.9},{"n":2825,"uv":22.4},{"n":2830,"uv":24.1},{"n":2835,"uv":20.7},{"n":2840,"uv":25.0},{"n":2845,"uv":29.3},{"n":2850,"uv":26.7},{"n":2855,"uv":32.8},{"n":2860,"uv":36.3},{"n":2865,"uv":34.5},{"n":2870,"uv":29.3},{"n":2875,"uv":15.5},{"n":2880,"uv":27.6},{"n":2885,"uv":29.3},{"n":2890,"uv":32.8},{"n":2895,"uv":34.5},{"n":2900,"uv":38.9},{"n":2905,"uv":33.7},{"n":2910,"uv":31.9},{"n":2915,"uv":34.5},{"n":2920,"uv":25.9},{"n":2925,"uv":31.9},{"n":2930,"uv":25.9},{"n":2935,"uv":31.1},{"n":2940,"uv":33.7},{"n":2945,"uv":36.3},{"n":2950,"uv":31.9},{"n":2955,"uv":34.5},{"n":2960,"uv":41.5},{"n":2965,"uv":43.2},
      {"n":2970,"uv":52.8},{"n":2975,"uv":58.0},{"n":2980,"uv":55.4},{"n":2985,"uv":51.0},{"n":2990,"uv":51.9},{"n":2995,"uv":49.3},{"n":3000,"uv":52.8},{"n":3005,"uv":57.1},{"n":3010,"uv":55.4},{"n":3015,"uv":53.6},{"n":3020,"uv":51.9},{"n":3025,"uv":46.7},{"n":3030,"uv":58.0},{"n":3035,"uv":59.7},{"n":3037,"uv":51.0},{"n":3040,"uv":63.2},{"n":3045,"uv":68.4},{"n":3050,"uv":66.7},{"n":3055,"uv":69.3},{"n":3060,"uv":68.4},{"n":3065,"uv":71.0},{"n":3070,"uv":70.1},{"n":3075,"uv":73.6},{"n":3080,"uv":69.3},{"n":3085,"uv":76.2},{"n":3090,"uv":68.4},{"n":3095,"uv":64.9},{"n":3100,"uv":52.8},{"n":3103,"uv":46.7},{"n":3107,"uv":54.5},{"n":3112,"uv":60.6},{"n":3117,"uv":66.7},{"n":3122,"uv":64.1},{"n":3127,"uv":64.1},{"n":3132,"uv":66.7},{"n":3137,"uv":71.0},{"n":3142,"uv":68.4},{"n":3147,"uv":62.3},{"n":3152,"uv":52.8},{"n":3157,"uv":45.0},{"n":3162,"uv":49.3},{"n":3167,"uv":41.5},{"n":3172,"uv":37.2},{"n":3177,"uv":31.9},{"n":3182,"uv":32.8},{"n":3187,"uv":31.1},{"n":3192,"uv":27.6},{"n":3197,"uv":28.5},{"n":3202,"uv":26.7},{"n":3207,"uv":25.9},{"n":3212,"uv":22.4},{"n":3217,"uv":16.3},{"n":3222,"uv":17.2},{"n":3227,"uv":19.8},{"n":3232,"uv":24.1},{"n":3237,"uv":22.4},{"n":3242,"uv":18.1},{"n":3247,"uv":12.8},{"n":3252,"uv":5.9},{"n":3257,"uv":0.7},{"n":3262,"uv":-6.2},{"n":3267,"uv":-11.5},{"n":3272,"uv":-8.0},{"n":3277,"uv":-7.1},{"n":3282,"uv":-6.2},{"n":3287,"uv":-8.0},{"n":3292,"uv":-9.7},{"n":3297,"uv":-14.9},{"n":3302,"uv":-18.4},{"n":3307,"uv":-20.1},{"n":3312,"uv":-14.9},{"n":3317,"uv":-11.5},{"n":3320,"uv":-25.3},{"n":3325,"uv":-20.1},{"n":3330,"uv":-27.1},{"n":3335,"uv":-39.2},{"n":3340,"uv":-37.5},{"n":3345,"uv":-36.6},{"n":3350,"uv":-35.8},{"n":3355,"uv":-34.9},{"n":3360,"uv":-35.8},{"n":3365,"uv":-33.2},{"n":3370,"uv":-30.6},{"n":3375,"uv":-34.0},{"n":3380,"uv":-31.4},{"n":3385,"uv":-36.6},{"n":3390,"uv":-28.8},{"n":3395,"uv":-18.4},{"n":3400,"uv":-11.5},{"n":3405,"uv":-6.2},{"n":3410,"uv":-4.5},{"n":3415,"uv":-1.0},{"n":3420,"uv":4.2},{"n":3425,"uv":3.3},{"n":3430,"uv":9.4},{"n":3435,"uv":16.3},{"n":3440,"uv":22.4},{"n":3445,"uv":24.1},{"n":3450,"uv":21.5},{"n":3455,"uv":31.9},{"n":3460,"uv":40.6},{"n":3465,"uv":43.2},{"n":3470,"uv":45.0},{"n":3475,"uv":47.6},{"n":3480,"uv":50.2},{"n":3485,"uv":52.8},{"n":3490,"uv":59.7},{"n":3495,"uv":55.4},{"n":3500,"uv":64.1},{"n":3505,"uv":68.4},{"n":3510,"uv":63.2},{"n":3515,"uv":67.5},{"n":3520,"uv":70.1},{"n":3525,"uv":71.0},{"n":3530,"uv":74.5},{"n":3535,"uv":76.2},{"n":3540,"uv":69.3},{"n":3545,"uv":71.9},{"n":3550,"uv":69.3},{"n":3555,"uv":68.4},{"n":3560,"uv":71.0},{"n":3565,"uv":75.3},{"n":3570,"uv":82.3},{"n":3575,"uv":84.4},{"n":3580,"uv":83.2},{"n":3585,"uv":80.6},{"n":3590,"uv":73.6},{"n":3595,"uv":59.7},{"n":3600,"uv":62.3},{"n":3605,"uv":56.2},{"n":3610,"uv":51.0},{"n":3615,"uv":46.7},{"n":3620,"uv":44.1},{"n":3625,"uv":42.4},{"n":3630,"uv":45.0},{"n":3635,"uv":48.4},{"n":3640,"uv":44.1},{"n":3645,"uv":39.8},{"n":3650,"uv":37.2},{"n":3655,"uv":35.4},{"n":3660,"uv":31.1},{"n":3665,"uv":32.8},{"n":3670,"uv":25.0},{"n":3675,"uv":28.5},{"n":3680,"uv":31.1},{"n":3685,"uv":29.3},{"n":3690,"uv":21.5},{"n":3695,"uv":17.2},{"n":3700,"uv":13.7},{"n":3705,"uv":23.3},{"n":3710,"uv":27.6},{"n":3715,"uv":32.8},{"n":3720,"uv":33.7},{"n":3725,"uv":25.0},{"n":3730,"uv":22.4},{"n":3735,"uv":29.3},{"n":3740,"uv":24.1},{"n":3745,"uv":28.5},{"n":3750,"uv":29.3},{"n":3755,"uv":24.1},{"n":3760,"uv":18.1},{"n":3765,"uv":9.4},{"n":3770,"uv":5.9},{"n":3775,"uv":9.4},{"n":3780,"uv":15.5},{"n":3785,"uv":23.3},{"n":3790,"uv":33.7},{"n":3795,"uv":37.2},{"n":3800,"uv":37.2},{"n":3805,"uv":34.5},{"n":3810,"uv":30.2},{"n":3815,"uv":32.8},{"n":3820,"uv":29.3},{"n":3825,"uv":32.8},{"n":3830,"uv":31.1},{"n":3835,"uv":33.7},{"n":3840,"uv":31.1},{"n":3845,"uv":33.7},{"n":3850,"uv":38.0},{"n":3855,"uv":40.6},{"n":3860,"uv":32.8},{"n":3865,"uv":25.0},{"n":3870,"uv":18.1},{"n":3875,"uv":7.6},{"n":3880,"uv":11.1},{"n":3885,"uv":16.3},{"n":3890,"uv":21.5},{"n":3895,"uv":28.5},{"n":3900,"uv":20.7},{"n":3905,"uv":16.3},{"n":3910,"uv":17.2},{"n":3915,"uv":12.0},{"n":3920,"uv":16.3},{"n":3925,"uv":15.5},{"n":3930,"uv":10.2},{"n":3935,"uv":26.7},{"n":3940,"uv":41.5},{"n":3945,"uv":46.7},{"n":3950,"uv":37.2},{"n":3955,"uv":11.1},{"n":3960,"uv":16.3},{"n":3965,"uv":26.7},{"n":3970,"uv":28.5},{"n":3975,"uv":27.6},{"n":3980,"uv":28.5}
    ]
  },
  "layer": [
    {
      "description": "Shaded box behind the fast, sharp artifact",
      "data": {"values": [
        {"n": 516, "n2": 813, "uv": 256.8, "uv2": 45.8},
        {"n": 516, "n2": 1290, "uv": 100.0, "uv2": 45.8}
      ]},
      "mark": {"type": "rect", "color": "#e3efe1", "cornerRadius": 8},
      "encoding": {
        "x": {"field": "n", "type": "quantitative", "scale": {"domain": [-120, 4080], "nice": false, "zero": false}, "axis": null},
        "x2": {"field": "n2"},
        "y": {"field": "uv", "type": "quantitative", "scale": {"domain": [-119.79, 259.38], "nice": false, "zero": false}, "axis": null},
        "y2": {"field": "uv2"}
      }
    },
    {
      "description": "Shaded box behind the slow, high-amplitude artifact",
      "data": {"values": [{"n": 1878, "n2": 3765, "uv": 150.0, "uv2": -92.7}]},
      "mark": {"type": "rect", "color": "#f1e2f1", "cornerRadius": 8},
      "encoding": {
        "x": {"field": "n", "type": "quantitative", "scale": {"domain": [-120, 4080], "nice": false, "zero": false}, "axis": null},
        "x2": {"field": "n2"},
        "y": {"field": "uv", "type": "quantitative", "scale": {"domain": [-119.79, 259.38], "nice": false, "zero": false}, "axis": null},
        "y2": {"field": "uv2"}
      }
    },
    {
      "description": "Zero line of the upper channel",
      "data": {"values": [{"n": 0, "n2": 4080, "uv": 0}]},
      "mark": {"type": "rule", "color": "#b4b4b4", "strokeWidth": 1.3, "strokeDash": [1.5, 3]},
      "encoding": {
        "x": {"field": "n", "type": "quantitative", "scale": {"domain": [-120, 4080], "nice": false, "zero": false}, "axis": null},
        "x2": {"field": "n2"},
        "y": {"field": "uv", "type": "quantitative", "scale": {"domain": [-306.25, 72.92], "nice": false, "zero": false}, "axis": null}
      }
    },
    {
      "description": "Upper channel trace",
      "data": {"name": "top"},
      "mark": {"type": "line", "color": "#111111", "strokeWidth": 1.5},
      "encoding": {
        "x": {"field": "n", "type": "quantitative", "scale": {"domain": [-120, 4080], "nice": false, "zero": false}, "axis": null},
        "y": {"field": "uv", "type": "quantitative", "scale": {"domain": [-306.25, 72.92], "nice": false, "zero": false}, "axis": null}
      }
    },
    {
      "description": "Zero line of the lower channel",
      "data": {"values": [{"n": 0, "n2": 4080, "uv": 0}]},
      "mark": {"type": "rule", "color": "#b4b4b4", "strokeWidth": 1.3, "strokeDash": [1.5, 3]},
      "encoding": {
        "x": {"field": "n", "type": "quantitative", "scale": {"domain": [-120, 4080], "nice": false, "zero": false}, "axis": null},
        "x2": {"field": "n2"},
        "y": {"field": "uv", "type": "quantitative", "scale": {"domain": [-119.79, 259.38], "nice": false, "zero": false}, "axis": null}
      }
    },
    {
      "description": "Lower channel trace",
      "data": {"name": "bottom"},
      "mark": {"type": "line", "color": "#111111", "strokeWidth": 1.5},
      "encoding": {
        "x": {"field": "n", "type": "quantitative", "scale": {"domain": [-120, 4080], "nice": false, "zero": false}, "axis": null},
        "y": {"field": "uv", "type": "quantitative", "scale": {"domain": [-119.79, 259.38], "nice": false, "zero": false}, "axis": null}
      }
    },
    {
      "description": "Scale bar: 50 uV by 1 s (400 samples)",
      "data": {"values": [
        {"n": 288, "n2": 288, "uv": -48, "uv2": -98},
        {"n": 288, "n2": 688, "uv": -98, "uv2": -98}
      ]},
      "mark": {"type": "rule", "color": "#222222", "strokeWidth": 1.3},
      "encoding": {
        "x": {"field": "n", "type": "quantitative", "scale": {"domain": [-120, 4080], "nice": false, "zero": false}, "axis": null},
        "x2": {"field": "n2"},
        "y": {"field": "uv", "type": "quantitative", "scale": {"domain": [-119.79, 259.38], "nice": false, "zero": false}, "axis": null},
        "y2": {"field": "uv2"}
      }
    },
    {
      "description": "Green caption",
      "data": {"values": [
        {"n": 540, "uv": 77.6, "label": "Very fast, sharp,"},
        {"n": 540, "uv": 51.0, "label": "abrupt artifacts"}
      ]},
      "mark": {"type": "text", "align": "left", "baseline": "alphabetic", "font": "Liberation Sans", "fontSize": 33, "color": "#1f8a4a"},
      "encoding": {
        "x": {"field": "n", "type": "quantitative", "scale": {"domain": [-120, 4080], "nice": false, "zero": false}, "axis": null},
        "y": {"field": "uv", "type": "quantitative", "scale": {"domain": [-119.79, 259.38], "nice": false, "zero": false}, "axis": null},
        "text": {"field": "label"}
      }
    },
    {
      "description": "Purple caption",
      "data": {"values": [
        {"n": 3744, "uv": -63.5, "label": "Slow-sinusoidal,"},
        {"n": 3744, "uv": -85.9, "label": "high-amplitude artifacts"}
      ]},
      "mark": {"type": "text", "align": "right", "baseline": "alphabetic", "font": "Liberation Sans", "fontSize": 33, "color": "#8b2d8b"},
      "encoding": {
        "x": {"field": "n", "type": "quantitative", "scale": {"domain": [-120, 4080], "nice": false, "zero": false}, "axis": null},
        "y": {"field": "uv", "type": "quantitative", "scale": {"domain": [-119.79, 259.38], "nice": false, "zero": false}, "axis": null},
        "text": {"field": "label"}
      }
    },
    {
      "description": "Amplitude label of the scale bar",
      "data": {"values": [{"n": 261, "uv": -78.6, "label": "50 µV"}]},
      "mark": {"type": "text", "align": "right", "baseline": "alphabetic", "font": "Liberation Sans", "fontSize": 33, "color": "#111111"},
      "encoding": {
        "x": {"field": "n", "type": "quantitative", "scale": {"domain": [-120, 4080], "nice": false, "zero": false}, "axis": null},
        "y": {"field": "uv", "type": "quantitative", "scale": {"domain": [-119.79, 259.38], "nice": false, "zero": false}, "axis": null},
        "text": {"field": "label"}
      }
    },
    {
      "description": "Time label of the scale bar",
      "data": {"values": [{"n": 496, "uv": -115.6, "label": "1 s"}]},
      "mark": {"type": "text", "align": "center", "baseline": "alphabetic", "font": "Liberation Sans", "fontSize": 33, "color": "#111111"},
      "encoding": {
        "x": {"field": "n", "type": "quantitative", "scale": {"domain": [-120, 4080], "nice": false, "zero": false}, "axis": null},
        "y": {"field": "uv", "type": "quantitative", "scale": {"domain": [-119.79, 259.38], "nice": false, "zero": false}, "axis": null},
        "text": {"field": "label"}
      }
    },
    {
      "description": "Panel letter",
      "data": {"values": [{"n": -99, "uv": 247.4, "label": "A"}]},
      "mark": {"type": "text", "align": "left", "baseline": "alphabetic", "font": "Liberation Sans", "fontSize": 27, "fontWeight": "bold", "color": "#111111"},
      "encoding": {
        "x": {"field": "n", "type": "quantitative", "scale": {"domain": [-120, 4080], "nice": false, "zero": false}, "axis": null},
        "y": {"field": "uv", "type": "quantitative", "scale": {"domain": [-119.79, 259.38], "nice": false, "zero": false}, "axis": null},
        "text": {"field": "label"}
      }
    }
  ],
  "resolve": {"scale": {"y": "independent"}}
}
